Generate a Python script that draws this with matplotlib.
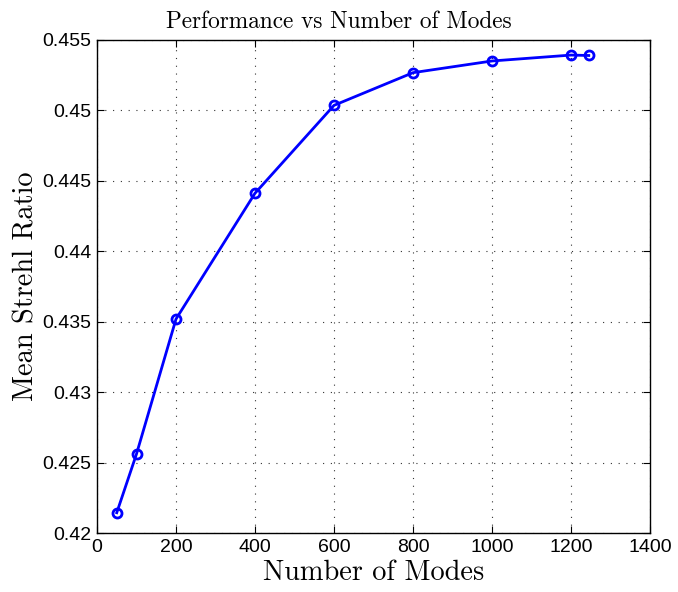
import matplotlib
matplotlib.use("Agg")
import matplotlib.pyplot as plt
import numpy as np

# number of modes kept vs mean Strehl ratio
n_modes = [50, 100, 200, 400, 600, 800, 1000, 1200, 1245]
mean_strehl = [0.42144, 0.42561, 0.43519, 0.44412, 0.45036, 0.45268, 0.45351, 0.45393, 0.45390]

x_ticks = [0, 200, 400, 600, 800, 1000, 1200, 1400]
y_ticks = [0.42, 0.425, 0.43, 0.435, 0.44, 0.445, 0.45, 0.455]
y_tick_labels = ["0.42", "0.425", "0.43", "0.435", "0.44", "0.445", "0.45", "0.455"]

plt.rcParams["font.family"] = ["Liberation Sans", "DejaVu Sans"]

fig = plt.figure(figsize=(6.78, 5.92), dpi=100)
ax = fig.add_axes([97 / 678, 1 - 533 / 592, (650 - 97) / 678, (533 - 40) / 592])

ax.plot(n_modes, mean_strehl, color="#0000ff", linewidth=2.0, marker="o",
        markersize=6.5, markerfacecolor="none", markeredgewidth=2.0,
        markeredgecolor="#0000ff")

ax.set_xlim(0, 1400)
ax.set_ylim(0.42, 0.455)
ax.set_xticks(x_ticks)
ax.set_yticks(y_ticks)
ax.set_yticklabels(y_tick_labels)
ax.tick_params(direction="in", top=True, right=True, length=5, width=0.8,
               labelsize=14, pad=4)
ax.grid(True, linestyle=(0, (1, 6)), color="#333333", linewidth=0.8)
for sp in ax.spines.values():
    sp.set_linewidth(1.0)

# title sits at the figure's horizontal centre
fig.text(0.5, 1 - 28 / 592, "Performance vs Number of Modes", fontfamily="cmr10",
         fontsize=16.8, ha="center", va="baseline")
ax.set_xlabel("Number of Modes", fontfamily="cmr10", fontsize=20.4, labelpad=3)
ax.set_ylabel("Mean Strehl Ratio", fontfamily="cmr10", fontsize=20.4, labelpad=2)

fig.savefig("out.png", dpi=100)
